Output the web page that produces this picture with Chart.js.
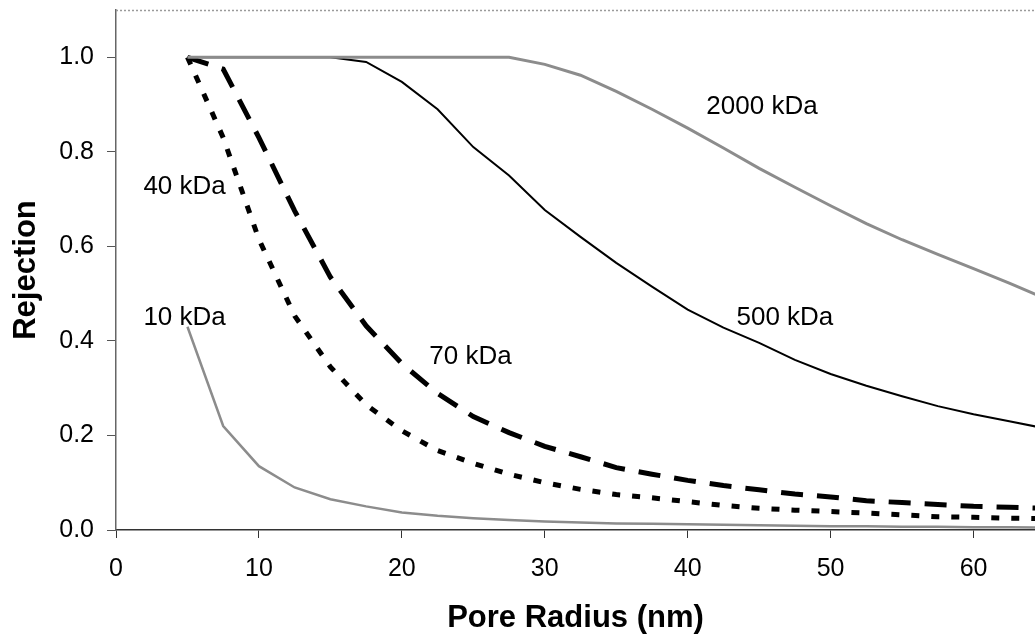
<!DOCTYPE html>
<html>
<head>
<meta charset="utf-8">
<script src="https://cdn.jsdelivr.net/npm/chart.js@4.4.0/dist/chart.umd.min.js"></script>
<style>
  html, body { margin: 0; padding: 0; background: #fff; overflow: hidden; }
  #wrap { width: 1035px; height: 641px; }
</style>
</head>
<body>
<div id="wrap"><canvas id="chart" width="1035" height="641"></canvas></div>
<script>
// Pore radius (nm) for every series
const radius = [5, 7.5, 10, 12.5, 15, 17.5, 20, 22.5, 25, 27.5, 30, 32.5, 35, 37.5, 40, 42.5, 45, 47.5, 50, 52.5, 55, 57.5, 60, 62.5, 65];

// Rejection values
const rej10 = [0.43, 0.22, 0.135, 0.09, 0.065, 0.05, 0.037, 0.03, 0.025, 0.021, 0.018, 0.016, 0.014, 0.013, 0.012, 0.011, 0.01, 0.009, 0.008, 0.008, 0.007, 0.007, 0.006, 0.006, 0.005];
const rej40 = [1.0, 0.83, 0.615, 0.453, 0.345, 0.265, 0.21, 0.168, 0.141, 0.118, 0.1, 0.086, 0.075, 0.068, 0.06, 0.052, 0.046, 0.042, 0.039, 0.036, 0.032, 0.028, 0.027, 0.025, 0.024];
const rej70 = [1.0, 0.975, 0.83, 0.675, 0.535, 0.432, 0.352, 0.289, 0.24, 0.206, 0.177, 0.155, 0.132, 0.118, 0.105, 0.094, 0.085, 0.076, 0.07, 0.062, 0.058, 0.054, 0.05, 0.048, 0.046];
const rej500 = [1.0, 1.0, 1.0, 1.0, 1.0, 0.99, 0.948, 0.89, 0.81, 0.75, 0.677, 0.62, 0.565, 0.515, 0.466, 0.428, 0.396, 0.36, 0.33, 0.305, 0.283, 0.262, 0.245, 0.23, 0.215];
const rej2000 = [1.0, 1.0, 1.0, 1.0, 1.0, 1.0, 1.0, 1.0, 1.0, 1.0, 0.985, 0.962, 0.928, 0.89, 0.85, 0.808, 0.765, 0.725, 0.686, 0.648, 0.614, 0.583, 0.553, 0.522, 0.49];

// Axis ticks
const xTicks = [0, 10, 20, 30, 40, 50, 60];
const yTicks = [0, 0.2, 0.4, 0.6, 0.8, 1.0];

// Curve labels, placed in data units
const curveLabels = [
    { text: '2000 kDa', x: 45.2, y: 0.895 },
    { text: '500 kDa', x: 46.8, y: 0.449 },
    { text: '70 kDa', x: 24.8, y: 0.366 },
    { text: '40 kDa', x: 4.8, y: 0.726 },
    { text: '10 kDa', x: 4.8, y: 0.449 }
];

const FONT = '"Liberation Sans", Arial, sans-serif';

function toPoints(values) {
    return radius.map((r, i) => ({ x: r, y: values[i] }));
}

// Draws curve labels and the dotted top frame
const decorations = {
    id: 'decorations',
    afterDatasetsDraw(chart) {
        const { ctx, chartArea, scales } = chart;
        ctx.save();
        ctx.strokeStyle = '#9a9a9a';
        ctx.lineWidth = 1.5;
        ctx.setLineDash([2, 2]);
        ctx.beginPath();
        ctx.moveTo(chartArea.left, chartArea.top + 0.5);
        ctx.lineTo(chartArea.right, chartArea.top + 0.5);
        ctx.stroke();
        ctx.setLineDash([]);

        ctx.fillStyle = '#000';
        ctx.font = '26px ' + FONT;
        ctx.textAlign = 'center';
        ctx.textBaseline = 'middle';
        curveLabels.forEach(l => {
            ctx.fillText(l.text, scales.x.getPixelForValue(l.x), scales.y.getPixelForValue(l.y));
        });
        ctx.restore();
    }
};

function initializeChart() {
    const ctx = document.getElementById('chart');

    const data = {
        datasets: [
            {
                label: '10 kDa',
                data: toPoints(rej10),
                borderColor: '#8c8c8c',
                borderWidth: 2.5,
                order: 1
            },
            {
                label: '40 kDa',
                data: toPoints(rej40),
                borderColor: '#000',
                borderWidth: 5,
                borderDash: [8, 12],
                order: 3
            },
            {
                label: '70 kDa',
                data: toPoints(rej70),
                borderColor: '#000',
                borderWidth: 5,
                borderDash: [22, 14],
                order: 4
            },
            {
                label: '500 kDa',
                data: toPoints(rej500),
                borderColor: '#000',
                borderWidth: 2,
                order: 5
            },
            {
                label: '2000 kDa',
                data: toPoints(rej2000),
                borderColor: '#8c8c8c',
                borderWidth: 3,
                order: 2
            }
        ]
    };

    const tickFont = { family: FONT, size: 25 };
    const titleFont = { family: FONT, size: 31, weight: 'bold' };

    const config = {
        type: 'line',
        data: data,
        options: {
            responsive: false,
            animation: false,
            layout: { padding: { top: 10, right: 0, left: 0, bottom: 0 } },
            elements: {
                point: { radius: 0 },
                line: { tension: 0, fill: false, borderCapStyle: 'butt' }
            },
            plugins: {
                legend: { display: false },
                tooltip: { enabled: false }
            },
            scales: {
                x: {
                    type: 'linear',
                    min: 0,
                    max: 64.3,
                    afterBuildTicks: axis => {
                        axis.ticks = xTicks.map(v => ({ value: v }));
                    },
                    afterFit: axis => {
                        axis.height = 111;
                        axis.paddingLeft = 0;
                        axis.paddingRight = 0;
                    },
                    ticks: {
                        color: '#000',
                        font: tickFont,
                        padding: 16,
                        maxRotation: 0
                    },
                    grid: {
                        drawOnChartArea: false,
                        drawTicks: true,
                        tickLength: 8,
                        tickColor: '#333'
                    },
                    border: { display: true, color: '#333', width: 1.5 },
                    title: {
                        display: true,
                        text: 'Pore Radius (nm)',
                        color: '#000',
                        font: titleFont,
                        padding: { top: 4, bottom: 4 }
                    }
                },
                y: {
                    type: 'linear',
                    min: 0,
                    max: 1.1,
                    afterBuildTicks: axis => {
                        axis.ticks = yTicks.map(v => ({ value: v }));
                    },
                    afterFit: axis => {
                        axis.width = 116;
                        axis.paddingTop = 0;
                        axis.paddingBottom = 0;
                    },
                    ticks: {
                        color: '#000',
                        font: tickFont,
                        padding: 13,
                        callback: v => Number(v).toFixed(1)
                    },
                    grid: {
                        drawOnChartArea: false,
                        drawTicks: true,
                        tickLength: 9,
                        tickColor: '#555'
                    },
                    border: { display: true, color: '#666', width: 1.5 },
                    title: {
                        display: true,
                        text: 'Rejection',
                        color: '#000',
                        font: titleFont,
                        padding: { top: 8, bottom: 8 }
                    }
                }
            }
        },
        plugins: [decorations]
    };

    new Chart(ctx, config);
}

document.addEventListener('DOMContentLoaded', initializeChart);
</script>
</body>
</html>
